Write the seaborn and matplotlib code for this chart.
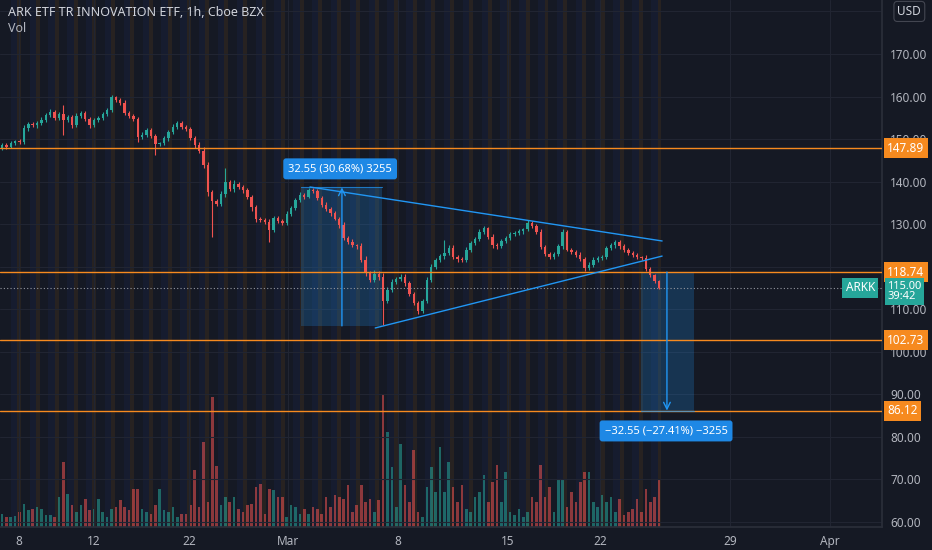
import numpy as np
import matplotlib
matplotlib.use('Agg')
import matplotlib.pyplot as plt
from matplotlib.patches import Rectangle
import seaborn as sns

# hourly closes (one value per bar, left to right)
closes = [148.6, 148.2, 149.0, 149.5, 149.3, 152.5, 153.6, 153.2, 153.8, 154.5,
          155.6, 156.4, 155.0, 155.8, 154.5, 155.2, 153.3, 155.5, 156.1, 154.8,
          153.2, 154.5, 155.0, 155.8, 156.8, 159.8, 159.2, 158.5, 156.1, 155.5,
          154.8, 150.5, 151.0, 152.1, 150.8, 148.9, 149.0, 150.2, 151.6, 152.8,
          153.8, 152.9, 152.4, 150.3, 148.6, 147.3, 143.8, 137.5, 135.5, 134.8,
          137.0, 139.8, 138.2, 139.5, 138.7, 138.0, 136.4, 134.0, 131.2, 131.0,
          130.6, 128.6, 131.5, 130.8, 130.3, 132.5, 133.8, 135.7, 136.9, 136.5,
          138.0, 137.8, 136.2, 134.5, 133.5, 132.6, 131.3, 129.8, 126.8, 125.8,
          125.0, 124.8, 121.6, 118.5, 116.9, 118.2, 117.6, 112.0, 114.5, 116.5,
          117.0, 117.6, 116.2, 113.5, 111.5, 109.6, 112.0, 116.9, 119.9, 121.5,
          122.5, 123.2, 124.5, 122.3, 121.8, 121.6, 124.0, 125.6, 126.5, 128.2,
          129.0, 127.0, 125.0, 124.8, 126.0, 126.8, 127.6, 128.0, 128.4, 128.8,
          130.3, 129.6, 128.2, 124.6, 123.0, 122.3, 123.0, 124.8, 128.2, 124.0,
          123.5, 122.8, 121.8, 119.8, 120.5, 121.6, 122.0, 122.3, 124.3, 125.0,
          125.8, 124.8, 123.9, 123.2, 122.8, 122.2, 122.0, 119.5, 118.0, 116.6,
          115.0]
first_open = 148.0

upper_wick = [0.5, 0.4, 0.6, 0.4, 0.5, 0.7, 0.4, 0.5, 0.4, 0.6,
              0.5, 0.6, 0.4, 0.5, 2.2, 0.4, 0.5, 0.6, 0.4, 0.5,
              0.4, 0.5, 0.4, 0.6, 0.5, 0.5, 0.4, 0.5, 0.6, 0.4,
              0.5, 0.4, 0.6, 0.5, 0.4, 0.5, 0.4, 0.6, 0.5, 0.7,
              0.4, 0.5, 0.4, 0.5, 0.4, 0.6, 0.8, 0.9, 0.6, 0.5,
              0.7, 3.4, 0.6, 0.8, 0.5, 0.6, 0.4, 0.5, 0.6, 0.5,
              0.4, 0.6, 0.5, 0.4, 0.5, 0.6, 0.5, 0.4, 0.6, 0.5,
              0.4, 0.6, 0.5, 0.4, 0.7, 0.5, 0.6, 0.4, 0.7, 0.5,
              0.6, 0.4, 0.8, 0.9, 0.5, 1.0, 0.8, 0.9, 0.7, 0.6,
              0.5, 0.8, 0.6, 0.5, 0.6, 0.5, 0.4, 0.6, 0.7, 0.5,
              0.6, 3.1, 0.5, 0.6, 0.4, 0.5, 0.6, 0.4, 0.5, 0.6,
              0.5, 0.4, 0.6, 0.5, 0.4, 0.5, 0.6, 0.4, 0.5, 0.4,
              0.6, 0.5, 0.4, 0.6, 0.5, 0.4, 0.5, 0.6, 0.6, 0.5,
              0.4, 0.5, 0.6, 0.4, 0.5, 0.6, 0.5, 0.4, 0.5, 0.6,
              0.5, 0.4, 0.6, 0.5, 0.4, 0.5, 0.4, 0.8, 0.5, 0.4,
              0.3]
lower_wick = [0.5, 0.6, 0.4, 0.5, 0.4, 0.5, 0.6, 0.4, 0.5, 0.4,
              0.6, 0.5, 0.4, 0.6, 3.5, 0.5, 0.6, 0.4, 0.5, 0.6,
              0.5, 0.4, 0.6, 0.5, 0.4, 0.5, 0.6, 0.5, 0.4, 0.6,
              0.5, 1.2, 0.4, 0.5, 0.6, 2.6, 0.5, 0.4, 0.6, 0.5,
              0.4, 0.6, 0.5, 0.4, 0.6, 0.5, 0.7, 0.9, 8.5, 0.6,
              0.5, 0.6, 0.4, 0.7, 0.5, 0.6, 0.5, 0.8, 0.6, 0.5,
              0.6, 2.8, 0.5, 0.6, 0.4, 0.5, 0.6, 0.4, 0.5, 0.6,
              0.4, 0.5, 0.6, 0.4, 0.5, 0.6, 0.4, 0.7, 0.6, 0.5,
              0.4, 0.7, 0.6, 0.8, 0.5, 0.6, 0.7, 5.7, 0.6, 0.5,
              0.6, 0.4, 0.7, 0.5, 0.6, 0.8, 0.5, 0.6, 0.5, 0.4,
              0.5, 0.6, 0.4, 0.5, 0.6, 0.4, 0.5, 0.6, 0.4, 0.5,
              0.6, 0.4, 0.5, 0.6, 0.4, 0.5, 0.6, 0.4, 0.5, 0.6,
              0.4, 0.5, 0.6, 0.4, 0.5, 0.6, 0.4, 0.5, 0.6, 0.4,
              0.5, 0.6, 0.4, 0.8, 0.5, 0.6, 0.4, 0.5, 0.6, 0.4,
              0.5, 0.6, 0.4, 0.5, 0.6, 0.4, 0.5, 0.6, 0.5, 0.4,
              0.3]

# volume in millions of shares
volume_m = [0.47, 0.36, 0.36, 0.40, 0.54, 0.83, 0.61, 0.65, 0.72, 0.65,
            0.43, 0.43, 0.36, 1.08, 2.34, 1.19, 0.79, 0.54, 0.79, 1.00,
            0.61, 0.65, 1.00, 0.54, 0.36, 0.65, 0.72, 0.97, 0.72, 0.61,
            1.37, 1.37, 0.65, 0.54, 0.47, 0.79, 1.37, 0.61, 0.54, 0.72,
            0.36, 0.47, 0.47, 0.79, 2.05, 0.72, 3.05, 0.90, 4.67, 2.20,
            0.79, 1.08, 0.90, 1.08, 0.65, 0.54, 0.79, 0.83, 1.44, 1.54,
            0.47, 1.37, 1.33, 1.08, 1.08, 0.36, 0.79, 0.72, 0.47, 0.65,
            0.47, 0.72, 0.65, 0.47, 1.08, 0.72, 1.15, 1.08, 1.00, 1.51,
            0.54, 0.79, 1.51, 0.90, 1.00, 0.54, 0.97, 4.74, 3.40, 2.15,
            0.72, 2.98, 1.51, 0.90, 2.76, 0.54, 0.36, 1.44, 2.15, 1.26,
            2.87, 1.26, 2.33, 1.44, 0.90, 1.51, 0.65, 0.54, 1.08, 1.26,
            1.87, 0.90, 1.62, 2.23, 0.90, 1.97, 0.54, 0.43, 0.65, 0.36,
            0.54, 1.08, 0.90, 2.23, 1.08, 1.44, 0.54, 1.72, 1.69, 0.72,
            1.26, 0.90, 1.62, 1.97, 1.97, 0.90, 0.72, 1.15, 0.90, 1.08,
            0.54, 1.00, 0.43, 0.54, 0.65, 1.00, 0.54, 1.37, 0.90, 1.08,
            1.69]

levels = [147.89, 118.74, 102.73, 86.12]
last_price = 115.00
countdown = '39:42'
date_labels = ['8', '12', '22', 'Mar', '8', '15', '22', '29', 'Apr']
date_bars = [3.9, 21.0, 42.7, 65.3, 90.4, 115.5, 136.5, 166.2, 189.0]
price_ticks = list(range(60, 190, 10))
hidden_ticks = [120, 180]   # covered by the level tag and the USD box

# price-range drawings (bars, prices) and triangle trend lines
up_range = {'bars': (68.3, 86.8), 'prices': (106.09, 138.64), 'arrow_bar': 77.6,
            'text': '32.55 (30.68%) 3255', 'label_at': (77.2, 143.0)}
down_range = {'bars': (145.9, 158.0), 'prices': (118.74, 86.19), 'arrow_bar': 151.8,
              'text': '\u221232.55 (\u221227.41%) \u22123255', 'label_at': (151.6, 81.4)}
tri_upper = ([70.3, 150.7], [138.74, 126.05])
tri_lower = ([85.2, 150.7], [105.6, 122.5])

BG = '#151924'
GRID = '#212532'
TXT = '#b2b5be'
UP = '#26a69a'
DOWN = '#ef5350'
ORANGE = '#f68a1f'
BLUE = '#2196f3'

sns.set_theme(style='dark', rc={'axes.facecolor': BG, 'figure.facecolor': BG})
plt.rcParams['font.family'] = ['Noto Sans', 'DejaVu Sans']

n = len(closes)
x = np.arange(n)
opens = np.array([first_open] + closes[:-1])
c = np.array(closes)
highs = np.maximum(opens, c) + np.array(upper_wick)
lows = np.minimum(opens, c) - np.array(lower_wick)
is_up = c >= opens
colors = np.where(is_up, UP, DOWN)

fig = plt.figure(figsize=(9.32, 5.5), dpi=100)
fig.patch.set_facecolor(BG)
ax2 = fig.add_axes([0, 23 / 550, 882 / 932, 527 / 550])
ax = ax2.twinx()
ax2.set_facecolor(BG)
ax.patch.set_visible(False)

x_lo, x_hi = -0.46, 200.9
y_lo, y_hi = 58.82, 182.69

# session shading (pre/post market stripes), drawn behind everything
for s in np.arange(3.9, n, 4.30):
    ax2.axvspan(s - 1.9, s - 0.45, color='#2962ff', alpha=0.05, lw=0)
    ax2.axvspan(s - 0.45, s + 0.45, color='#ff9800', alpha=0.08, lw=0)

# volume
ax2.bar(x, volume_m, width=0.6, color=colors, alpha=0.55, lw=0)
ax2.set_ylim(0, 18.9)
ax2.set_xlim(x_lo, x_hi)
ax2.set_yticks([])
for s in ax2.spines.values():
    s.set_visible(False)

# grid
for v in price_ticks:
    ax.axhline(v, color=GRID, lw=0.8, zorder=0)
for b in date_bars:
    ax.axvline(b, color=GRID, lw=0.8, zorder=0)

# candles
body = c - opens
body = np.where(np.abs(body) < 0.2, np.where(is_up, 0.2, -0.2), body)
ax.vlines(x, lows, highs, colors=colors, lw=0.8, zorder=3)
ax.bar(x, body, bottom=opens, width=0.55, color=colors, lw=0, zorder=3)

# horizontal levels
for lv in levels:
    ax.axhline(lv, color=ORANGE, lw=1.0, zorder=4)
ax.axhline(last_price, color='#9598a1', lw=0.8, ls=(0, (1, 2)), zorder=4)

# trend lines
ax.plot(*tri_upper, color=BLUE, lw=1.0, zorder=5)
ax.plot(*tri_lower, color=BLUE, lw=1.0, zorder=5)

# price range boxes
for rng in (up_range, down_range):
    b0, b1 = rng['bars']
    p0, p1 = rng['prices']
    ax.add_patch(Rectangle((b0, min(p0, p1)), b1 - b0, abs(p1 - p0),
                           facecolor=BLUE, alpha=0.22, edgecolor='none', zorder=2))
    ax.plot([b0, b1], [p1, p1], color=BLUE, lw=0.8, alpha=0.7, zorder=5)
    ax.annotate('', xy=(rng['arrow_bar'], p1), xytext=(rng['arrow_bar'], p0),
                arrowprops=dict(arrowstyle='->', color=BLUE, lw=1.0,
                                shrinkA=0, shrinkB=0), zorder=5)
    lx, ly = rng['label_at']
    ax.text(lx, ly, rng['text'], color='white', fontsize=8, ha='center', va='center',
            zorder=7, bbox=dict(boxstyle='round,pad=0.45,rounding_size=0.25',
                                fc='#1e88e5', ec='none'))

ax.set_xlim(x_lo, x_hi)
ax.set_ylim(y_lo, y_hi)

# price axis on the right
ax.set_yticks(price_ticks)
ax.set_yticklabels(['' if v in hidden_ticks else f'{v:.2f}' for v in price_ticks])
ax.tick_params(axis='y', colors=TXT, labelsize=8.5, length=0, pad=6)
ax.set_xticks(date_bars)
ax2.set_xticks(date_bars)
ax2.set_xticklabels(date_labels)
ax2.tick_params(axis='x', colors=TXT, labelsize=8.5, length=0, pad=6)
for lbl in ax2.get_xticklabels():
    if lbl.get_text() in ('Mar', 'Apr'):
        lbl.set_fontweight('bold')
ax.tick_params(axis='x', length=0, labelbottom=False)
for name, s in ax.spines.items():
    s.set_visible(name in ('right', 'bottom'))
    s.set_color('#2a2e39')

ytr = ax.get_yaxis_transform()
for lv in levels:
    ax.text(1.006, lv, f'{lv:.2f}', transform=ytr, color='white', fontsize=8.5,
            ha='left', va='center', zorder=8, clip_on=False,
            bbox=dict(boxstyle='square,pad=0.3', fc=ORANGE, ec='none'))
ax.text(1.006, 116.7, f'{last_price:.2f}\n{countdown}', transform=ytr, color='white',
        fontsize=8, ha='left', va='top', linespacing=0.95, zorder=8, clip_on=False,
        bbox=dict(boxstyle='square,pad=0.25', fc=UP, ec='none'))
ax.text(0.992, last_price, 'ARKK', transform=ytr, color='white', fontsize=8.5,
        ha='right', va='center', zorder=8,
        bbox=dict(boxstyle='square,pad=0.3', fc=UP, ec='none'))
ax.text(1.031, 180, 'USD', transform=ytr, color='#d1d4dc', fontsize=8.5,
        ha='center', va='center', zorder=8, clip_on=False,
        bbox=dict(boxstyle='round,pad=0.3,rounding_size=0.3', fc=BG, ec='#434651', lw=0.8))

fig.text(8 / 932, 1 - 13 / 550, 'ARK ETF TR INNOVATION ETF, 1h, Cboe BZX',
         color='#d1d4dc', fontsize=9, ha='left', va='center')
fig.text(8 / 932, 1 - 28 / 550, 'Vol', color='#b2b5be', fontsize=9, ha='left', va='center')

fig.savefig('out.png', dpi=100, facecolor=BG)
